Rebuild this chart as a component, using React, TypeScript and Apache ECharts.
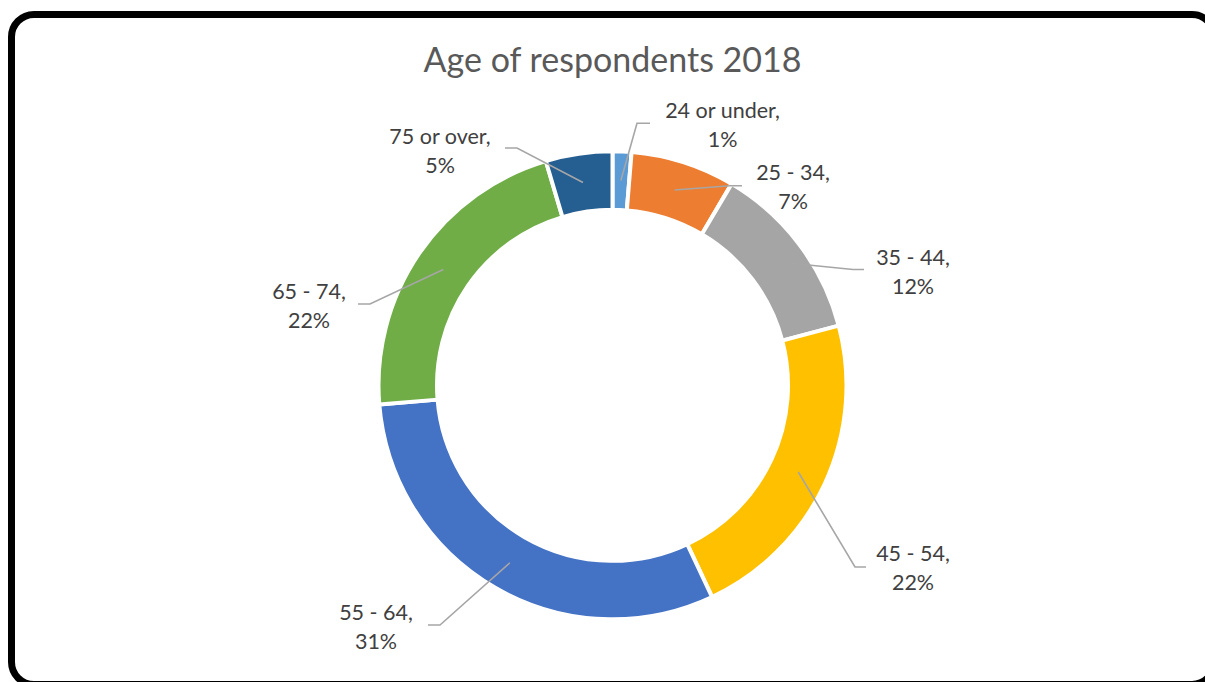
import React, { useEffect, useRef } from "react";
import * as echarts from "echarts";

// ---- data ----
const titleText = "Age of respondents 2018";
const categories = ["24 or under", "25 - 34", "35 - 44", "45 - 54", "55 - 64", "65 - 74", "75 or over"];
const shares = [1.3, 7.2, 12.4, 22.1, 30.7, 21.7, 4.6];

// ---- styles / layout ----
const colors = ["#5B9BD5", "#ED7D31", "#A5A5A5", "#FFC000", "#4472C4", "#70AD47", "#255E91"];
const CX = 612.5;
const CY = 385.3;
const R_IN = 175.5;
const R_OUT = 234;
const R_LEADER = 205;
const labelCenters = [
  [722.5, 124.5],
  [793, 186.5],
  [913, 271.5],
  [913, 567.5],
  [376, 626.5],
  [309, 305.5],
  [440, 150.5],
];
const leaderElbows = [
  [637, 123.3],
  [730, 185.7],
  [853, 269.5],
  [855, 567],
  [440, 625],
  [370, 304],
  [517, 148],
];
const leaderEnds = [
  [650, 123.3],
  [742, 185.7],
  [864, 269.5],
  [866, 567],
  [428, 625],
  [358, 304],
  [505, 148],
];
const FONT = "Lato, 'Open Sans', sans-serif";

function leaderStart(i: number): number[] {
  const total = shares.reduce((a, b) => a + b, 0);
  let cum = 0;
  for (let k = 0; k < i; k++) cum += shares[k];
  const theta = ((cum + shares[i] / 2) / total) * Math.PI * 2;
  return [CX + R_LEADER * Math.sin(theta), CY - R_LEADER * Math.cos(theta)];
}

export default function App() {
  const ref = useRef<HTMLDivElement>(null);
  useEffect(() => {
    if (!ref.current) return;
    const chart = echarts.init(ref.current, undefined, { renderer: "svg" });
    const leaders = categories.map((_, i) => ({
      type: "polyline",
      silent: true,
      z: 50,
      shape: { points: [leaderStart(i), leaderElbows[i], leaderEnds[i]] },
      style: { fill: "none", stroke: "#A6A6A6", lineWidth: 1.6 },
    }));
    chart.setOption({
      animation: false,
      backgroundColor: "#ffffff",
      graphic: [
        {
          type: "rect",
          silent: true,
          shape: { x: 11.5, y: 14.5, width: 1203, height: 670, r: 22.5 },
          style: { fill: "none", stroke: "#000000", lineWidth: 7 },
          z: 60,
        },
        {
          type: "text",
          silent: true,
          x: 612.5,
          y: 58,
          style: {
            text: titleText,
            align: "center",
            verticalAlign: "middle",
            fontSize: 34,
            fontFamily: FONT,
            fill: "#595959",
          },
        },
        ...leaders,
      ],
      series: [
        {
          type: "pie",
          center: [CX, CY],
          radius: [R_IN, R_OUT],
          startAngle: 90,
          clockwise: true,
          avoidLabelOverlap: false,
          silent: true,
          itemStyle: { borderColor: "#ffffff", borderWidth: 4 },
          label: {
            show: true,
            position: "outside",
            formatter: (p: any) => `${p.name},\n${Math.round(p.value)}%`,
            fontSize: 21.5,
            lineHeight: 29,
            color: "#404040",
            fontFamily: FONT,
          },
          labelLine: { show: false },
          labelLayout: (params: any) => {
            const i = params.dataIndex;
            return {
              x: labelCenters[i][0],
              y: labelCenters[i][1],
              align: "center",
              verticalAlign: "middle",
            };
          },
          data: categories.map((c, i) => ({
            name: c,
            value: shares[i],
            itemStyle: { color: colors[i] },
          })),
        },
      ],
    });
    return () => chart.dispose();
  }, []);
  return (
    <div
      ref={ref}
      style={{ position: "fixed", left: 0, top: 0, width: 1205, height: 682, overflow: "hidden" }}
    />
  );
}
